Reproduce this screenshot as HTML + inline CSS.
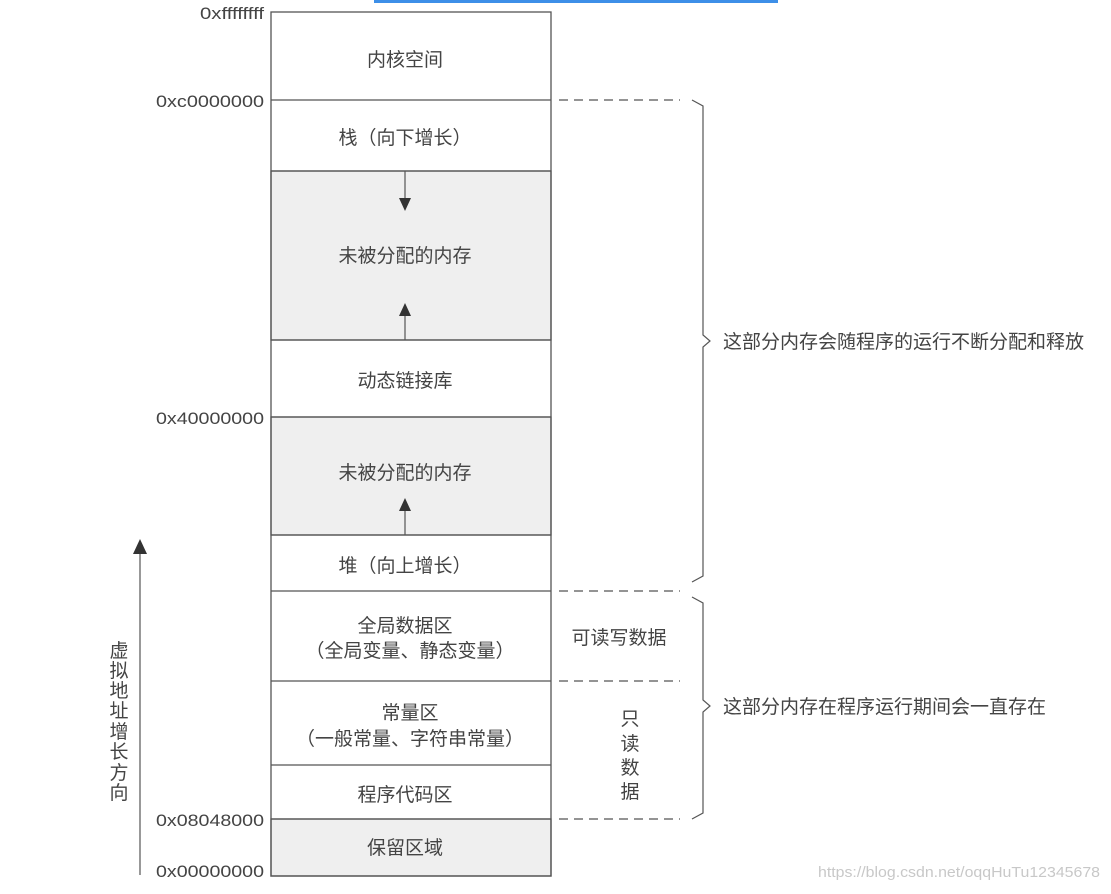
<!DOCTYPE html>
<html><head><meta charset="utf-8"><style>
body{margin:0;background:#fff}
svg text{font-family:"Liberation Sans","Noto Sans CJK SC",sans-serif;fill:#444}
</style></head><body>
<svg width="1111" height="889" viewBox="0 0 1111 889" xmlns="http://www.w3.org/2000/svg">
<rect x="374" y="0" width="404" height="3" fill="#3d8fe8"/>
<g stroke="#555" stroke-width="1.3">
<rect x="271" y="171" width="280" height="169" fill="#efefef"/>
<rect x="271" y="417" width="280" height="118" fill="#efefef"/>
<rect x="271" y="819" width="280" height="57" fill="#efefef"/>
<rect x="271" y="12" width="280" height="864" fill="none"/>
<line x1="271" y1="100" x2="551" y2="100"/>
<line x1="271" y1="171" x2="551" y2="171"/>
<line x1="271" y1="340" x2="551" y2="340"/>
<line x1="271" y1="417" x2="551" y2="417"/>
<line x1="271" y1="535" x2="551" y2="535"/>
<line x1="271" y1="591" x2="551" y2="591"/>
<line x1="271" y1="681" x2="551" y2="681"/>
<line x1="271" y1="765" x2="551" y2="765"/>
<line x1="271" y1="819" x2="551" y2="819"/>
</g>
<g stroke="#555" stroke-width="1.3" fill="none" stroke-dasharray="9,6">
<line x1="559" y1="100" x2="680" y2="100"/>
<line x1="559" y1="591" x2="680" y2="591"/>
<line x1="559" y1="681" x2="680" y2="681"/>
<line x1="559" y1="819" x2="680" y2="819"/>
</g>
<g stroke="#555" stroke-width="1.2" fill="none">
<path d="M692 100 L703 106 L703 335 L710 341 L703 347 L703 576 L692 582"/>
<path d="M692 597 L703 603 L703 700 L710 706 L703 712 L703 813 L692 819"/>
<line x1="405" y1="171" x2="405" y2="202"/>
<line x1="405" y1="340" x2="405" y2="312"/>
<line x1="405" y1="535" x2="405" y2="507"/>
<line x1="140" y1="875" x2="140" y2="548"/>
</g>
<g fill="#333">
<polygon points="399,198 411,198 405,211"/>
<polygon points="399,316 411,316 405,303"/>
<polygon points="399,511 411,511 405,498"/>
<polygon points="133,554 147,554 140,539"/>
</g>
<g font-size="17">
<text x="200" y="19" textLength="64" lengthAdjust="spacingAndGlyphs">0xffffffff</text>
<text x="156" y="107" textLength="108" lengthAdjust="spacingAndGlyphs">0xc0000000</text>
<text x="156" y="424" textLength="108" lengthAdjust="spacingAndGlyphs">0x40000000</text>
<text x="156" y="826" textLength="108" lengthAdjust="spacingAndGlyphs">0x08048000</text>
<text x="156" y="877" textLength="108" lengthAdjust="spacingAndGlyphs">0x00000000</text>
</g>
<g font-size="19" text-anchor="middle">
<text x="405" y="66">内核空间</text>
<text x="405" y="144">栈（向下增长）</text>
<text x="405" y="262">未被分配的内存</text>
<text x="405" y="387">动态链接库</text>
<text x="405" y="479">未被分配的内存</text>
<text x="405" y="572">堆（向上增长）</text>
<text x="405" y="632">全局数据区</text>
<text x="410" y="657">（全局变量、静态变量）</text>
<text x="410" y="719">常量区</text>
<text x="410" y="745">（一般常量、字符串常量）</text>
<text x="405" y="801">程序代码区</text>
<text x="405" y="854">保留区域</text>
<text x="619" y="644">可读写数据</text>
<text x="630" y="725">只</text>
<text x="630" y="750">读</text>
<text x="630" y="774">数</text>
<text x="630" y="798">据</text>
<text x="119" y="657">虚</text>
<text x="119" y="677">拟</text>
<text x="119" y="697">地</text>
<text x="119" y="717">址</text>
<text x="119" y="738">增</text>
<text x="119" y="758">长</text>
<text x="119" y="779">方</text>
<text x="119" y="799">向</text>
</g>
<g font-size="19">
<text x="723" y="348">这部分内存会随程序的运行不断分配和释放</text>
<text x="723" y="713">这部分内存在程序运行期间会一直存在</text>
</g>
<text x="818" y="877" font-size="15" textLength="282" lengthAdjust="spacingAndGlyphs" style="fill:#c8c8c8">https://blog.csdn.net/oqqHuTu12345678</text>
</svg>
</body></html>
